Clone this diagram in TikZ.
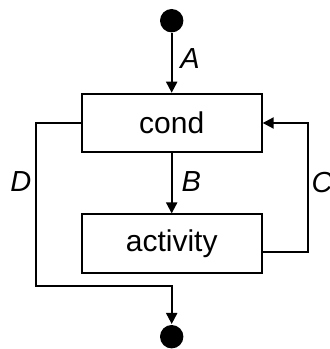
\documentclass[tikz,border=0pt]{standalone}
\usepackage{fontspec}
\setmainfont{Liberation Sans}
\usetikzlibrary{arrows.meta}

\begin{document}
\begin{tikzpicture}[x=1pt, y=1pt, >={Triangle[length=11pt,width=11pt]}, line width=2pt,
    box/.style={draw, minimum width=180pt, minimum height=58.5pt, inner sep=0pt, font=\fontsize{30}{36}\selectfont},
    dot/.style={fill, circle, minimum size=23.4pt, inner sep=0pt},
    lbl/.style={inner sep=0pt, font=\fontsize{29}{35}\selectfont\itshape}]
    \useasboundingbox (0,0) rectangle (330,349);

    % Start and end
    \node[dot] (start) at (171.7,328.3) {};
    \node[dot] (stop) at (171.7,12.3) {};

    % Boxes
    \node[box] (cond) at (171.7,226) {cond};
    \node[box] (act) at (171.7,105.3) {activity};

    % A and B
    \draw[->] (start) -- (cond);
    \node[lbl] (la) at (190,290.7) {A};
    \draw[->] (cond) -- (act);
    \node[lbl] (lb) at (191.3,167.3) {B};

    % C: back to cond
    \coordinate (cback) at (307.7,226);
    \draw[->] (act.-5) -| (cback) -- (cond.east);
    \node[lbl] (lc) at (322,166.5) {C};

    % D: leave the loop
    \coordinate (dturn) at (36,63);
    \draw[->] (cond.west) -| (dturn) -| (stop);
    \node[lbl] (ld) at (20.8,167.3) {D};
\end{tikzpicture}
\end{document}
